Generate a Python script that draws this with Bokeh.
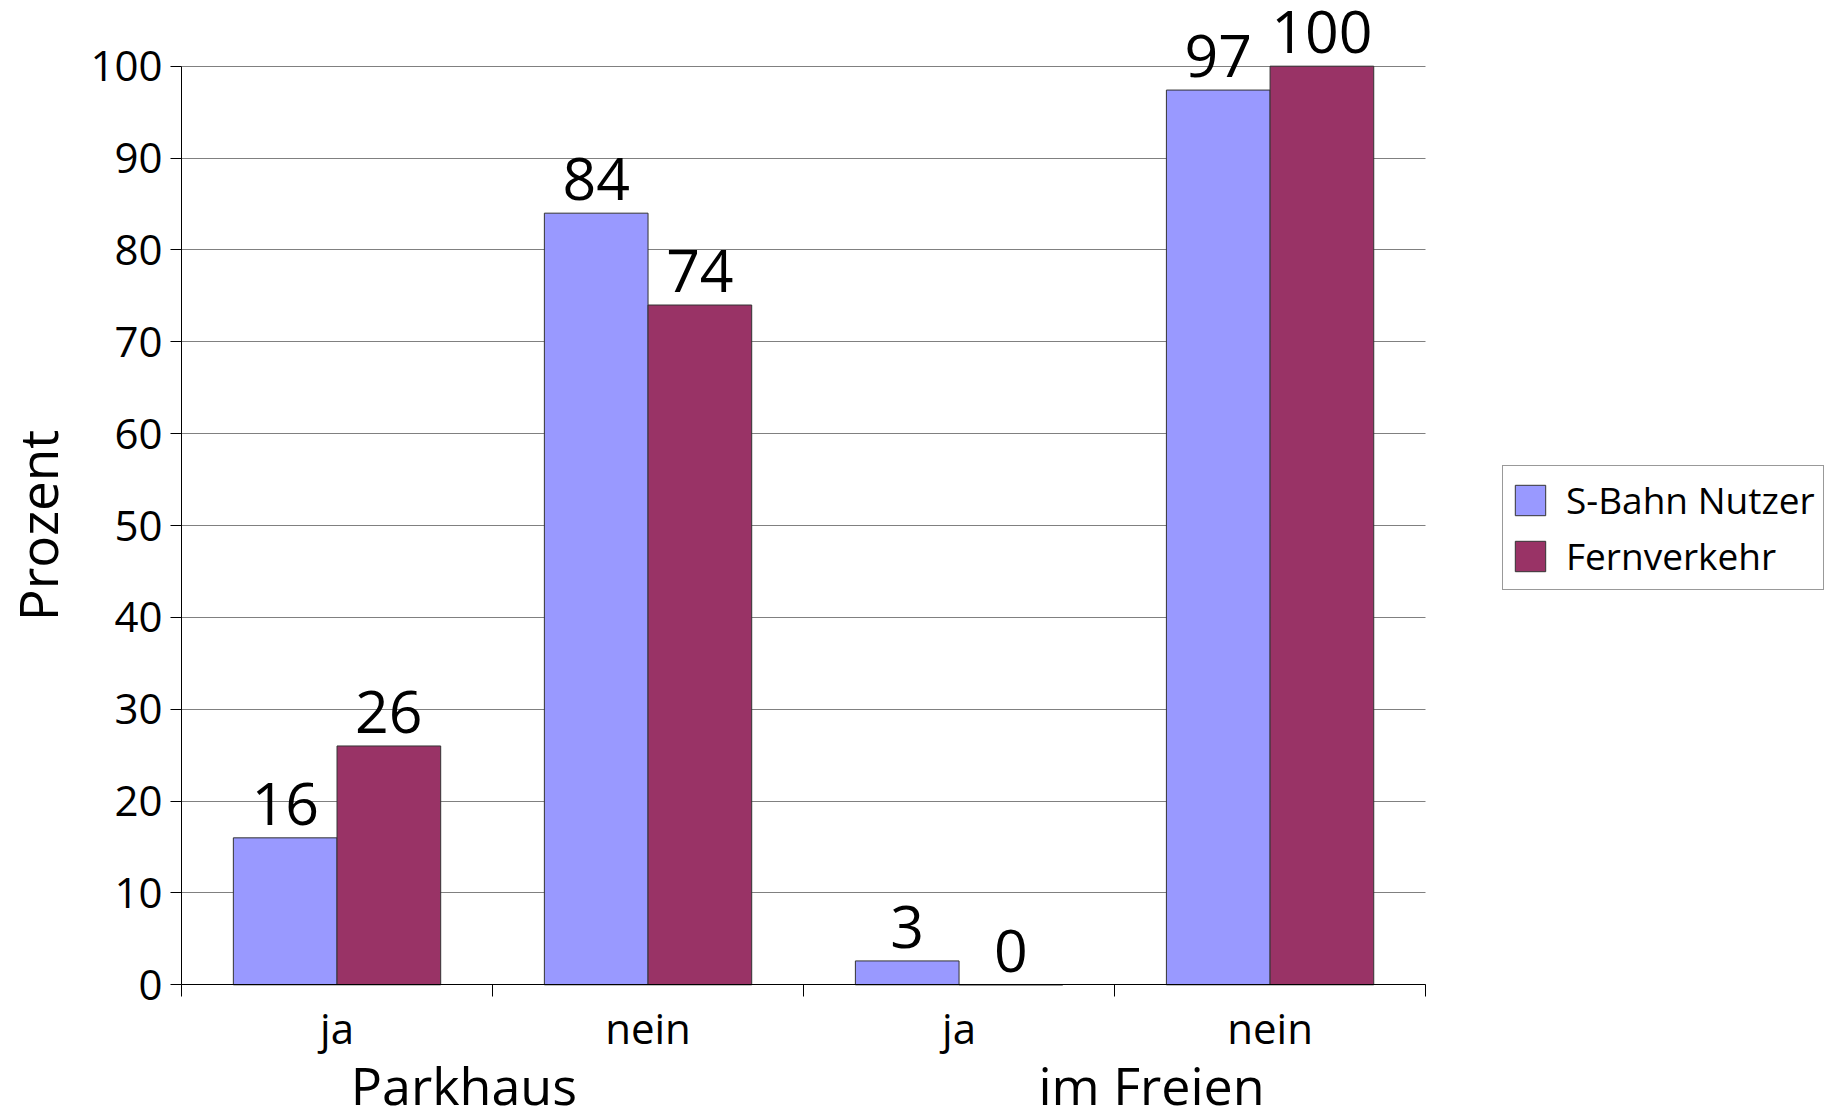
from bokeh.plotting import figure
from bokeh.models import (FixedTicker, Legend, LegendItem, LinearAxis,
                          LabelSet, ColumnDataSource, Range1d, Grid)
from bokeh.core.properties import value
from bokeh.embed import file_html
from bokeh.resources import INLINE

# ---- data ----
categories = ["ja", "nein", "ja", "nein"]
groups = ["Parkhaus", "im Freien"]
series_names = ["S-Bahn Nutzer", "Fernverkehr"]
s_bahn = [16, 84, 2.6, 97.4]
fernverkehr = [26, 74, 0, 100]
y_ticks = [0, 10, 20, 30, 40, 50, 60, 70, 80, 90, 100]
y_label = "Prozent"

FONT = "Open Sans"
BLUE = "#9999ff"
RED = "#993366"

n = len(categories)
centers = [i + 0.5 for i in range(n)]
bw = 1 / 3
group_pos = [0.908, 3.119]   # label anchor positions under each pair of categories

src_a = ColumnDataSource(dict(x=[c - bw / 2 for c in centers], top=s_bahn,
                              label=[f"{v:.0f}" for v in s_bahn]))
src_b = ColumnDataSource(dict(x=[c + bw / 2 for c in centers], top=fernverkehr,
                              label=[f"{v:.0f}" for v in fernverkehr]))

# frame covers the whole canvas; axes sit at fixed data locations
p = figure(width=1835, height=1120,
           x_range=Range1d(-0.582, 5.318), y_range=Range1d(-14.77, 107.15),
           output_backend="svg", toolbar_location=None,
           x_axis_type=None, y_axis_type=None, min_border=0)
p.outline_line_color = None
p.background_fill_color = "white"
p.border_fill_color = "white"

# y axis
yax = LinearAxis(ticker=FixedTicker(ticks=y_ticks), axis_label=y_label,
                 fixed_location=0, bounds=(0, 100))
yax.major_tick_out = 11
yax.major_tick_in = 0
yax.minor_tick_out = 0
yax.minor_tick_in = 0
yax.axis_line_color = "black"
yax.major_tick_line_color = "black"
yax.major_label_text_font = FONT
yax.major_label_text_font_size = "42px"
yax.major_label_text_color = "black"
yax.major_label_standoff = 8
yax.axis_label_text_font = FONT
yax.axis_label_text_font_size = "53px"
yax.axis_label_text_font_style = "normal"
yax.axis_label_text_color = "black"
yax.axis_label_standoff = 13
p.add_layout(yax, "left")

p.add_layout(Grid(dimension=1, ticker=yax.ticker, grid_line_color="#808080",
                  grid_line_width=1, bounds=(0, 100), cross_bounds=(0, n)))

# x axis (categories)
xax = LinearAxis(ticker=FixedTicker(ticks=centers, minor_ticks=list(range(n + 1))),
                 fixed_location=0, bounds=(0, n))
xax.major_label_overrides = {c: lab for c, lab in zip(centers, categories)}
xax.major_tick_out = 0
xax.major_tick_in = 0
xax.minor_tick_out = 12
xax.minor_tick_in = 0
xax.minor_tick_line_color = "black"
xax.axis_line_color = "black"
xax.major_label_text_font = FONT
xax.major_label_text_font_size = "42px"
xax.major_label_text_color = "black"
xax.major_label_standoff = 2
p.add_layout(xax, "below")

# group axis (Parkhaus / im Freien)
gax = LinearAxis(ticker=FixedTicker(ticks=group_pos), fixed_location=0, bounds=(0, n))
gax.major_label_overrides = {gx: g for gx, g in zip(group_pos, groups)}
gax.axis_line_color = None
gax.major_tick_line_color = None
gax.minor_tick_line_color = None
gax.major_tick_out = 0
gax.major_tick_in = 0
gax.minor_tick_out = 0
gax.minor_tick_in = 0
gax.major_label_text_font = FONT
gax.major_label_text_font_size = "52px"
gax.major_label_text_color = "black"
gax.major_label_standoff = 64
p.add_layout(gax, "below")

ra = p.vbar(x="x", top="top", bottom=0, width=bw, source=src_a,
            fill_color=BLUE, line_color="#333333", line_width=1)
rb = p.vbar(x="x", top="top", bottom=0, width=bw, source=src_b,
            fill_color=RED, line_color="#333333", line_width=1)

for src in (src_a, src_b):
    p.add_layout(LabelSet(x="x", y="top", text="label", source=src, y_offset=13,
                          text_align="center", text_baseline="alphabetic",
                          text_font=value(FONT), text_font_size=value("59px"),
                          text_color="black"))

legend = Legend(items=[LegendItem(label=series_names[0], renderers=[ra]),
                       LegendItem(label=series_names[1], renderers=[rb])],
                location=(1502, 530), margin=0, padding=8, spacing=5,
                glyph_width=38, glyph_height=38, label_standoff=17,
                label_text_font=FONT, label_text_font_size="37px",
                label_text_color="black",
                border_line_color="#333333", border_line_width=1,
                background_fill_color="white")
p.add_layout(legend, "center")

open("out.html", "w").write(file_html(p, INLINE))
